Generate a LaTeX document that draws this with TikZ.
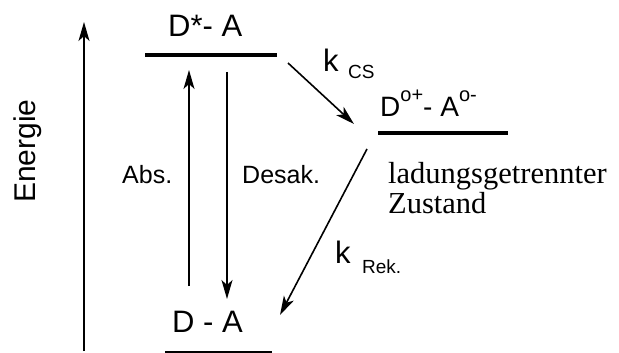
\documentclass[tikz,border=0pt]{standalone}
\usepackage{fontspec}
\setmainfont{Liberation Sans}
\newfontfamily\seriffont{Liberation Serif}
\usetikzlibrary{arrows.meta}
\tikzset{
  lbl/.style={inner sep=0pt, anchor=base west, font=\fontsize{31}{31}\selectfont},
  smalllbl/.style={inner sep=0pt, anchor=base west, font=\fontsize{25}{25}\selectfont},
  sublbl/.style={inner sep=0pt, anchor=base west, font=\fontsize{19}{19}\selectfont},
  level/.style={line width=3.2pt},
  conn/.style={line width=1.6pt, -{Stealth[length=19pt, width=11pt, inset=5pt]}},
}
\newcommand{\supx}[1]{\raisebox{0.55em}{\fontsize{20}{20}\selectfont #1}}
\begin{document}
\begin{tikzpicture}[x=1pt,y=-1pt]
\useasboundingbox (0,0) rectangle (619,353);
% energy axis
\coordinate (ax0) at (84,351);
\coordinate (ax1) at (84,22);
\draw[conn] (ax0) -- (ax1);
\node[lbl, rotate=90, font=\fontsize{30}{30}\selectfont] (en) at (35,203) {Energie};
% levels
\coordinate (la) at (145,55); \coordinate (lb) at (277,55);
\draw[level] (la) -- (lb);
\coordinate (ca) at (378,133); \coordinate (cb) at (508,133);
\draw[level] (ca) -- (cb);
\coordinate (ga) at (165,352); \coordinate (gb) at (272,352);
\draw[line width=2.5pt] (ga) -- (gb);
% labels
\node[lbl] (dstar) at (168,37) {D*- A};
\node[lbl, font=\fontsize{28}{28}\selectfont] (ct) at (380,117) {D\supx{o+}- A\supx{o-}};
\node[lbl] (da) at (172,332) {D - A};
\node[smalllbl] (abs) at (122,183) {Abs.};
\node[smalllbl] (des) at (242,183) {Desak.};
\node[lbl] (k1) at (323,72) {k};
\node[sublbl] (cs) at (348,78) {CS};
\node[lbl] (k2) at (335,263) {k};
\node[sublbl] (rek) at (362,273) {Rek.};
\node[inner sep=0pt, anchor=base west, align=left, font=\seriffont\fontsize{30.5}{30}\selectfont] (zs) at (388,213) {ladungsgetrennter\\Zustand};
% transitions
\coordinate (a0) at (189,286); \coordinate (a1) at (189,70);
\draw[conn] (a0) -- (a1);
\coordinate (d0) at (227,72); \coordinate (d1) at (227,299);
\draw[conn] (d0) -- (d1);
\coordinate (c0) at (288,63); \coordinate (c1) at (354,124);
\draw[conn] (c0) -- (c1);
\coordinate (r0) at (367,149); \coordinate (r1) at (280,315);
\draw[conn] (r0) -- (r1);
\end{tikzpicture}
\end{document}
